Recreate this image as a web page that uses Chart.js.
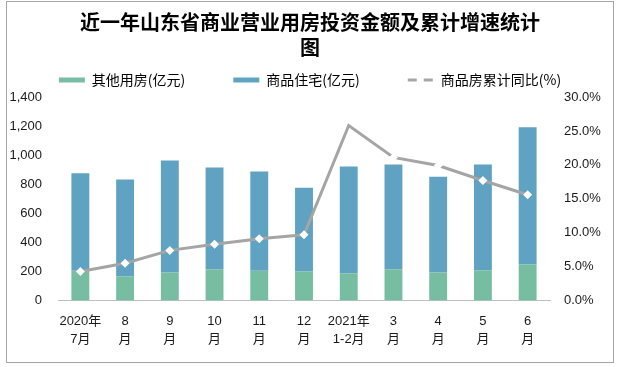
<!DOCTYPE html>
<html><head><meta charset="utf-8">
<script src="https://cdn.jsdelivr.net/npm/chart.js@4"></script>
<style>
html,body{margin:0;padding:0;background:#fff;}
#wrap{position:relative;width:620px;height:367px;}
#frame{position:absolute;left:6px;top:1px;width:606px;height:360px;border:1px solid #a6a6a6;pointer-events:none;}
canvas{position:absolute;left:0;top:0;}
</style></head><body>
<div id="wrap"><canvas id="c" width="620" height="367"></canvas><div id="frame"></div></div>
<script>
// ---- data ----
const categories = [['2020年','7月'],['8','月'],['9','月'],['10','月'],['11','月'],['12','月'],['2021年','1-2月'],['3','月'],['4','月'],['5','月'],['6','月']];
const otherBuildings = [206,166,194,215,206,201,187,215,194,208,249];      // 其他用房(亿元)
const residential   = [669,666,769,700,681,575,735,721,658,728,943];        // 商品住宅(亿元)
const cumulativeGrowth = [4.3,5.5,7.4,8.3,9.1,9.7,25.8,21.1,19.9,17.7,15.6]; // 商品房累计同比(%)
const seriesNames = ['其他用房(亿元)','商品住宅(亿元)','商品房累计同比(%)'];
const titleLines = ['近一年山东省商业营业用房投资金额及累计增速统计','图'];
const leftAxisMax = 1400, leftAxisStep = 200;
const rightAxisMax = 30, rightAxisStep = 5;

const FONT = '"Liberation Sans", "Noto Sans CJK SC", sans-serif';
const CJK = '"Noto Sans CJK SC", "Liberation Sans", sans-serif';
const GREEN = '#76BDA2', BLUE = '#5FA2C2', GREY = '#A5A5A5', TXT = '#1a1a1a';

new Chart(document.getElementById('c'), {
  data: {
    labels: categories,
    datasets: [
      {type:'bar', label:seriesNames[0], data:otherBuildings, backgroundColor:GREEN, yAxisID:'y', stack:'s', order:1, barPercentage:0.5, categoryPercentage:0.8},
      {type:'bar', label:seriesNames[1], data:residential, backgroundColor:BLUE, yAxisID:'y', stack:'s', order:1, barPercentage:0.5, categoryPercentage:0.8},
      {type:'line', label:seriesNames[2], data:cumulativeGrowth, yAxisID:'y1', borderColor:GREY, backgroundColor:GREY, borderWidth:3, tension:0,
        pointStyle:'rectRot', pointRadius:(c)=> c.dataIndex===6 ? 0 : 4.5, pointBackgroundColor:'#ffffff', pointBorderWidth:0, order:0}
    ]
  },
  options: {
    responsive:false, animation:false, events:[],
    layout:{padding:{left:0,right:0,top:0,bottom:6}},
    plugins:{
      title:{display:true, text:titleLines, color:'#000',
        font:{family:CJK, size:20, weight:'bold', lineHeight:1.25},
        padding:{top:10, bottom:-35}},
      legend:{
        labels:{
          usePointStyle:true, pointStyleWidth:26, boxHeight:5, padding:48, color:'#000',
          font:{family:CJK, size:14},
          sort:(a,b)=>a.datasetIndex-b.datasetIndex,
          generateLabels:(chart)=>{
            const items = Chart.defaults.plugins.legend.labels.generateLabels(chart);
            items.forEach(it=>{
              if (it.datasetIndex===2) { it.pointStyle='line'; it.lineDash=[9,7]; it.lineWidth=3; it.strokeStyle=GREY; it.fillStyle=GREY; }
              else { it.pointStyle='rect'; it.lineWidth=0; }
            });
            return items;
          }
        }
      },
      tooltip:{enabled:false}
    },
    scales:{
      x:{stacked:true, grid:{display:false, drawTicks:false}, border:{color:'#bfbfbf'},
        ticks:{padding:12, color:TXT, font:{family:FONT, size:13, lineHeight:1.4}, maxRotation:0, autoSkip:false}},
      y:{stacked:true, position:'left', min:0, max:leftAxisMax,
        grid:{display:false, drawTicks:false}, border:{display:false},
        ticks:{stepSize:leftAxisStep, autoSkip:false, padding:16, color:TXT, font:{family:FONT, size:13}, callback:(v)=>v.toLocaleString('en-US')},
        afterFit:(s)=>{s.width=58;}},
      y1:{position:'right', min:0, max:rightAxisMax,
        grid:{display:false, drawTicks:false}, border:{display:false},
        ticks:{stepSize:rightAxisStep, autoSkip:false, padding:14, color:TXT, font:{family:FONT, size:13}, callback:(v)=>v.toFixed(1)+'%'},
        afterFit:(s)=>{s.width=70;}}
    }
  }
});
</script>
</body></html>
